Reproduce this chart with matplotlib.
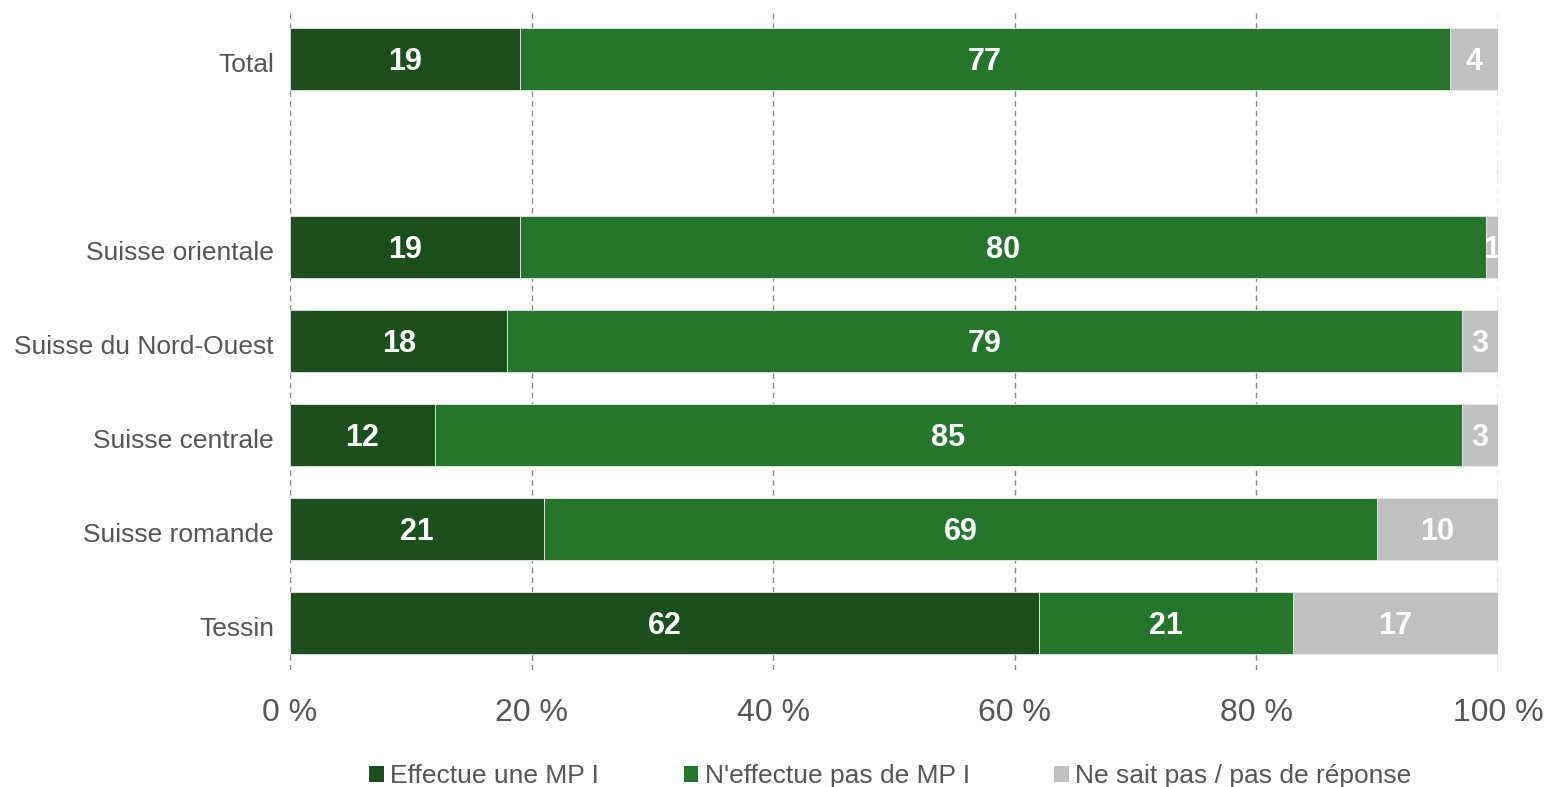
import matplotlib
matplotlib.use("Agg")
import matplotlib.pyplot as plt
from matplotlib.patches import Patch
from matplotlib.transforms import ScaledTranslation, blended_transform_factory

categories = ["Total", "", "Suisse orientale", "Suisse du Nord-Ouest",
              "Suisse centrale", "Suisse romande", "Tessin"]
effectue = [19, None, 19, 18, 12, 21, 62]
n_effectue = [77, None, 80, 79, 85, 69, 21]
ne_sait = [4, None, 1, 3, 3, 10, 17]
series_names = ["Effectue une MP I", "N'effectue pas de MP I", "Ne sait pas / pas de réponse"]
colors = ["#1b501e", "#26752c", "#c0c0c0"]
xticks = [0, 20, 40, 60, 80, 100]
xtick_labels = ["0 %", "20 %", "40 %", "60 %", "80 %", "100 %"]

plt.rcParams['font.family'] = ['Liberation Sans', 'DejaVu Sans']
fig = plt.figure(figsize=(15.46, 7.87), dpi=100)
ax = fig.add_axes([290/1546, 1 - 670/787, (1498-290)/1546, (670-12)/787])

series = [effectue, n_effectue, ne_sait]
for i, cat in enumerate(categories):
    if series[0][i] is None:
        continue
    left = 0
    for s, col in zip(series, colors):
        v = s[i]
        ax.barh(i, v, left=left, height=0.67, color=col, edgecolor="#e8e8e8",
                linewidth=0.6, zorder=3)
        ax.text(left + v/2, i, str(v), ha="center", va="center_baseline", color="white",
                fontsize=22, fontweight="bold", zorder=4)
        left += v

ax.set_ylim(6.5, -0.5)
ax.set_xlim(0, 100)
ax.set_yticks(range(len(categories)))
ax.set_yticklabels([])
trans = blended_transform_factory(ax.transAxes, ax.transData) + \
    ScaledTranslation(-16/100, -3/100, fig.dpi_scale_trans)
for i, cat in enumerate(categories):
    ax.text(0, i, cat, transform=trans, ha="right", va="center_baseline",
            fontsize=19, color="#555555")
ax.set_xticks(xticks)
ax.set_xticklabels(xtick_labels, fontsize=23, color="#555555")
ax.tick_params(axis="both", length=0)
ax.tick_params(axis="x", pad=20)
for sp in ax.spines.values():
    sp.set_visible(False)
ax.grid(axis="x", linestyle=(0, (4, 3)), color="#888888", linewidth=1.0, zorder=0)
ax.set_axisbelow(True)

handles = [Patch(facecolor=c, edgecolor="none") for c in colors]
fig.legend(handles, series_names, loc="center", bbox_to_anchor=(0.576, 0.0135),
           ncol=3, frameon=False, fontsize=19, labelcolor="#555555",
           handlelength=0.55, handleheight=0.55, handletextpad=0.25, columnspacing=3.2)

fig.savefig("out.png", dpi=100)
